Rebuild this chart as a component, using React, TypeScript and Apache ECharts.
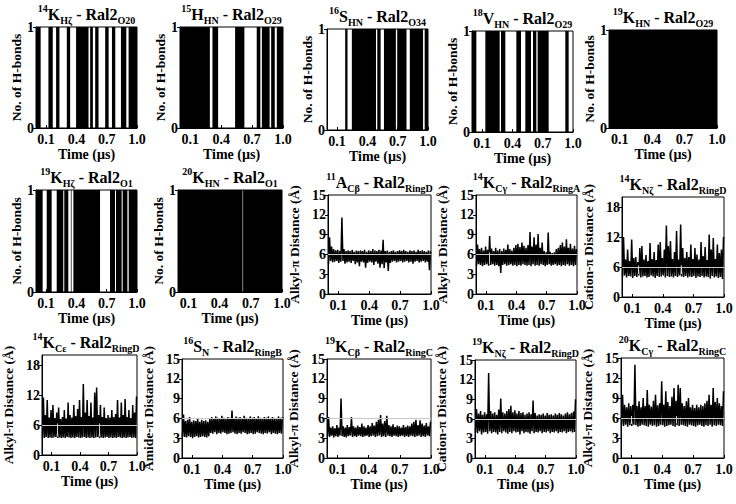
import React, { useEffect, useRef } from "react";
import * as echarts from "echarts";

const FONT = "'Liberation Serif','Times New Roman',Times,serif";

const TIME_TICKS = [0.1, 0.4, 0.7, 1.0];
const HB_TICKS = [0, 1];
const D15_TICKS = [0, 3, 6, 9, 12, 15];
const D20_TICKS = [0, 6, 12, 18];
const CUTOFF = 6;

// H-bond present intervals (µs)
const hb14K_Hz = [[0, 0.046], [0.123, 0.166], [0.199, 0.232], [0.305, 0.338], [0.397, 0.52], [0.536, 0.563], [0.586, 0.619], [0.685, 0.719], [0.752, 0.785], [0.841, 0.894], [0.917, 1.0]];
const hb15H_HN = [[0, 0.29], [0.315, 0.37], [0.535, 0.625], [0.745, 0.78], [0.795, 0.87], [0.885, 0.92], [0.94, 1.0]];
const hb16S_HN = [[0.18, 0.203], [0.246, 0.485], [0.498, 0.531], [0.564, 0.682], [0.695, 0.787], [0.82, 0.951], [0.967, 1.0]];
const hb18V_HN = [[0, 0.043], [0.132, 0.274], [0.287, 0.33], [0.439, 0.485], [0.528, 0.584], [0.604, 0.637], [0.65, 0.759], [0.924, 0.957]];
const hb19K_HN = [[0, 1.0]];
const hb19K_Hz = [[0, 0.066], [0.106, 0.155], [0.205, 0.27], [0.28, 0.32], [0.345, 0.352], [0.37, 0.634], [0.733, 0.782], [0.792, 0.848], [0.858, 0.905], [0.918, 1.0]];
const hb20K_HN = [[0, 0.621], [0.626, 1.0]];

// Distance traces: per time bin (50 bins over 1 µs) lower / upper envelope (Å)
const d11A_lo = [4.5, 5.0, 4.8, 4.9, 5.0, 4.7, 4.9, 5.0, 4.6, 4.8, 4.9, 4.7, 5.0, 4.5, 4.8, 4.2, 4.9, 4.8, 4.0, 4.7, 4.9, 4.8, 4.4, 4.9, 4.6, 4.0, 4.5, 3.9, 4.8, 3.5, 4.7, 4.9, 5.0, 4.8, 4.9, 5.0, 4.8, 4.9, 5.0, 4.8, 4.9, 4.6, 4.9, 5.0, 4.8, 4.9, 5.0, 4.8, 4.9, 3.6];
const d11A_hi = [8.6, 7.2, 6.8, 6.6, 6.7, 6.5, 11.6, 6.8, 6.5, 6.6, 6.5, 6.7, 6.4, 6.6, 6.5, 6.6, 6.5, 6.7, 6.4, 6.6, 6.5, 6.8, 6.6, 6.5, 6.7, 6.6, 8.2, 6.5, 6.6, 6.4, 6.5, 6.6, 6.4, 6.5, 6.6, 6.5, 6.7, 6.5, 6.4, 6.6, 6.5, 6.6, 6.4, 6.7, 6.5, 6.6, 6.5, 6.4, 6.6, 6.5];

const d14Kg_lo = [4.3, 4.5, 4.4, 4.2, 4.4, 4.5, 4.3, 4.4, 4.5, 4.3, 4.4, 4.2, 3.2, 4.4, 4.5, 4.3, 4.4, 4.5, 4.3, 4.4, 4.2, 4.4, 4.3, 4.5, 4.4, 4.3, 4.4, 4.2, 4.5, 4.3, 4.4, 4.3, 4.5, 4.4, 4.2, 4.4, 4.5, 4.3, 4.4, 4.5, 4.3, 4.4, 4.2, 4.4, 4.3, 4.5, 4.3, 4.4, 4.2, 4.4];
const d14Kg_hi = [7.5, 6.8, 7.0, 6.6, 7.2, 6.7, 8.8, 6.9, 6.5, 7.0, 6.6, 6.8, 6.5, 6.9, 6.7, 7.5, 6.8, 6.6, 7.0, 7.4, 7.6, 7.1, 7.8, 7.3, 7.0, 7.4, 9.4, 7.2, 8.6, 7.5, 9.1, 7.0, 7.8, 6.5, 6.3, 9.3, 6.4, 6.2, 6.3, 6.8, 7.0, 7.4, 7.8, 7.2, 8.3, 7.0, 7.6, 6.9, 7.3, 6.8];

const d14Kn_lo = [4.0, 4.3, 3.9, 4.2, 4.1, 3.8, 4.2, 4.0, 4.3, 3.9, 4.1, 4.2, 3.9, 4.0, 4.3, 4.1, 3.8, 4.2, 4.0, 4.1, 4.3, 3.9, 4.2, 4.0, 4.1, 3.9, 4.2, 4.0, 4.3, 4.1, 4.0, 4.2, 3.9, 4.1, 4.0, 4.2, 3.8, 4.1, 4.0, 4.2, 3.9, 4.1, 4.0, 3.7, 4.2, 3.9, 4.1, 3.8, 4.0, 3.6];
const d14Kn_hi = [12.0, 7.5, 9.5, 7.2, 11.5, 7.8, 8.0, 7.0, 9.8, 10.2, 7.5, 8.4, 7.2, 10.8, 7.6, 9.0, 7.4, 10.5, 11.0, 7.8, 9.5, 14.3, 10.2, 11.2, 7.6, 9.0, 13.2, 7.5, 14.5, 9.8, 7.8, 9.0, 8.0, 10.5, 7.6, 9.8, 8.5, 7.5, 11.0, 8.2, 10.0, 7.4, 12.5, 9.5, 11.8, 7.6, 10.5, 8.8, 9.5, 12.0];

const d14Ke_lo = [3.5, 3.4, 3.6, 3.4, 3.5, 3.4, 3.5, 3.6, 3.4, 3.5, 3.4, 3.5, 3.4, 3.6, 3.5, 3.4, 3.5, 3.4, 3.6, 3.5, 3.4, 3.5, 3.6, 3.4, 3.5, 3.4, 3.5, 3.4, 3.5, 3.6, 3.4, 3.5, 3.4, 3.5, 3.6, 3.4, 3.5, 3.4, 3.5, 3.4, 3.6, 3.5, 3.4, 3.5, 3.4, 3.5, 3.6, 3.4, 3.5, 3.4];
const d14Ke_hi = [11.5, 8.0, 11.0, 7.5, 9.0, 10.0, 7.4, 8.5, 9.5, 7.2, 7.6, 9.0, 7.3, 10.5, 8.0, 7.5, 10.0, 7.8, 9.2, 11.0, 7.6, 14.2, 8.5, 11.0, 7.8, 10.5, 7.5, 12.5, 13.5, 8.0, 10.0, 7.6, 9.5, 7.4, 8.0, 7.5, 9.0, 7.6, 8.2, 11.0, 7.5, 10.5, 8.0, 11.2, 7.6, 9.0, 7.4, 10.0, 8.5, 11.7];

const d16S_lo = [3.3, 3.2, 3.1, 3.3, 3.2, 3.0, 3.2, 3.3, 3.1, 3.2, 3.3, 3.2, 3.1, 3.3, 3.8, 3.7, 3.9, 3.6, 3.8, 3.7, 3.9, 3.8, 3.6, 3.7, 3.8, 3.9, 3.7, 3.6, 3.8, 3.7, 3.9, 3.8, 3.6, 3.7, 3.8, 3.6, 3.7, 3.9, 3.8, 3.7, 3.6, 3.8, 3.7, 3.9, 3.6, 3.8, 3.7, 3.6, 3.8, 3.7];
const d16S_hi = [6.6, 5.6, 5.8, 6.2, 5.5, 5.7, 5.6, 6.0, 5.5, 5.8, 5.6, 5.7, 5.5, 5.9, 6.2, 6.0, 6.3, 6.1, 6.0, 6.4, 6.1, 6.0, 6.2, 6.1, 7.2, 6.0, 6.3, 6.1, 6.2, 6.0, 6.4, 6.1, 6.0, 6.3, 6.1, 6.2, 6.0, 6.3, 6.1, 6.0, 6.2, 6.1, 6.3, 6.0, 6.2, 6.1, 6.0, 6.3, 6.1, 6.2];

const d19Kb_lo = [3.3, 3.2, 3.4, 3.1, 3.3, 3.2, 3.4, 3.3, 3.2, 3.1, 3.3, 3.4, 3.2, 3.3, 3.2, 3.4, 3.3, 3.2, 3.3, 3.4, 3.2, 3.3, 3.4, 3.2, 3.3, 3.4, 3.2, 3.3, 3.2, 3.4, 3.3, 3.2, 3.4, 3.3, 3.2, 3.3, 3.4, 3.2, 3.3, 3.2, 3.4, 3.3, 3.2, 3.3, 3.4, 3.2, 3.3, 3.2, 3.4, 3.3];
const d19Kb_hi = [6.2, 4.6, 4.8, 4.5, 5.0, 4.6, 9.0, 4.8, 4.6, 5.0, 4.7, 6.2, 4.8, 4.6, 4.9, 4.7, 5.2, 4.8, 4.6, 5.0, 4.8, 5.3, 4.9, 5.5, 5.8, 6.5, 5.2, 5.6, 6.4, 5.0, 4.8, 5.1, 4.7, 4.9, 4.8, 4.6, 5.0, 4.7, 4.9, 4.8, 5.2, 5.5, 5.8, 5.0, 5.7, 5.2, 4.9, 5.3, 4.8, 5.5];

const d19Kn_lo = [4.0, 3.8, 4.1, 3.6, 3.9, 4.0, 3.7, 4.1, 3.8, 4.0, 3.9, 3.6, 4.0, 3.8, 4.1, 3.9, 3.7, 4.0, 3.8, 4.1, 3.9, 4.0, 3.6, 4.1, 3.8, 4.0, 3.9, 3.7, 4.1, 3.8, 4.0, 3.9, 4.1, 3.8, 4.0, 3.9, 4.1, 3.8, 4.0, 3.9, 4.1, 3.8, 4.0, 3.9, 4.1, 3.8, 4.0, 4.1, 3.9, 4.0];
const d19Kn_hi = [7.5, 6.8, 7.2, 6.6, 7.0, 6.7, 13.0, 7.2, 6.8, 7.0, 6.6, 7.4, 9.1, 7.0, 6.8, 7.2, 7.5, 8.0, 7.0, 7.3, 6.8, 7.2, 6.9, 7.0, 6.6, 6.8, 7.0, 6.7, 8.8, 6.9, 6.5, 6.7, 6.6, 6.8, 6.5, 6.9, 6.6, 6.7, 6.5, 6.8, 6.6, 6.9, 6.7, 6.5, 6.8, 7.0, 6.7, 6.9, 7.1, 9.0];

const d20K_lo = [4.9, 4.8, 5.0, 4.7, 4.9, 4.8, 5.0, 4.9, 4.7, 4.8, 5.0, 4.9, 4.8, 4.7, 5.0, 4.8, 4.9, 4.7, 4.8, 5.0, 4.9, 4.7, 4.8, 4.9, 5.0, 4.8, 4.7, 4.9, 4.8, 5.0, 4.9, 4.8, 4.7, 5.0, 4.9, 4.8, 4.7, 4.9, 5.0, 4.8, 4.7, 4.9, 4.8, 5.0, 4.7, 4.9, 4.8, 5.0, 4.9, 4.8];
const d20K_hi = [9.5, 8.0, 7.6, 8.2, 7.8, 8.0, 14.0, 7.8, 8.5, 7.6, 9.0, 7.8, 10.2, 8.0, 7.7, 8.6, 9.5, 7.9, 8.2, 11.5, 8.0, 10.0, 8.4, 7.8, 9.2, 10.5, 8.6, 11.0, 10.5, 8.2, 7.8, 8.5, 9.0, 7.6, 8.0, 7.5, 8.0, 7.6, 8.0, 7.8, 8.2, 8.6, 9.5, 8.0, 10.5, 8.4, 9.0, 8.2, 7.8, 10.0];

// missing-frame gaps (µs)
const gaps14Kg = [0.13];
const gaps14Kn = [0.16, 0.58];
const gaps14Ke = [0.16, 0.6];
const gaps20K = [0.1, 0.54];

const ALKYL = "Alkyl-π Distance (Å)";
const CATION = "Cation-π Distance (Å)";
const AMIDE = "Amide-π Distance (Å)";
const HBN = "No. of H-bonds";

const ttl = (num: string, res: string, atom: string, grp: string) =>
  `{sup|${num}}{main|${res}}{sub|${atom}}{main| - Ral2}{sub|${grp}}`;

type Panel = {
  box: number[];
  title: string;
  kind: "hb" | "d";
  seg?: number[][];
  lo?: number[];
  hi?: number[];
  gaps?: number[];
  ymax?: number;
  ticks?: number[];
  yname: string;
};

const PANELS: Panel[] = [
  { box: [36, 27, 101, 101], title: ttl("14", "K", "Hζ", "O20"), kind: "hb", seg: hb14K_Hz, yname: HBN },
  { box: [180, 27, 103, 101], title: ttl("15", "H", "HN", "O29"), kind: "hb", seg: hb15H_HN, yname: HBN },
  { box: [327, 29, 101, 101], title: ttl("16", "S", "HN", "O34"), kind: "hb", seg: hb16S_HN, yname: HBN },
  { box: [472, 31, 101, 101], title: ttl("18", "V", "HN", "O29"), kind: "hb", seg: hb18V_HN, yname: HBN },
  { box: [609, 30, 108, 98], title: ttl("19", "K", "HN", "O29"), kind: "hb", seg: hb19K_HN, yname: HBN },
  { box: [36, 190, 101, 102], title: ttl("19", "K", "Hζ", "O1"), kind: "hb", seg: hb19K_Hz, yname: HBN },
  { box: [178, 190, 104, 102], title: ttl("20", "K", "HN", "O1"), kind: "hb", seg: hb20K_HN, yname: HBN },
  { box: [328, 195, 103, 99], title: ttl("11", "A", "Cβ", "RingD"), kind: "d", lo: d11A_lo, hi: d11A_hi, ymax: 15, ticks: D15_TICKS, yname: ALKYL },
  { box: [476, 195, 101, 99], title: ttl("14", "K", "Cγ", "RingA"), kind: "d", lo: d14Kg_lo, hi: d14Kg_hi, gaps: gaps14Kg, ymax: 15, ticks: D15_TICKS, yname: ALKYL },
  { box: [622, 197, 102, 100], title: ttl("14", "K", "Nζ", "RingD"), kind: "d", lo: d14Kn_lo, hi: d14Kn_hi, gaps: gaps14Kn, ymax: 20, ticks: D20_TICKS, yname: CATION },
  { box: [35, 355, 102, 100], title: ttl("14", "K", "Cε", "RingD"), kind: "d", lo: d14Ke_lo, hi: d14Ke_hi, gaps: gaps14Ke, ymax: 20, ticks: D20_TICKS, yname: ALKYL },
  { box: [182, 359, 101, 99], title: ttl("16", "S", "N", "RingB"), kind: "d", lo: d16S_lo, hi: d16S_hi, ymax: 15, ticks: D15_TICKS, yname: AMIDE },
  { box: [327, 359, 104, 99], title: ttl("19", "K", "Cβ", "RingC"), kind: "d", lo: d19Kb_lo, hi: d19Kb_hi, ymax: 15, ticks: D15_TICKS, yname: ALKYL },
  { box: [475, 360, 101, 98], title: ttl("19", "K", "Nζ", "RingD"), kind: "d", lo: d19Kn_lo, hi: d19Kn_hi, ymax: 15, ticks: D15_TICKS, yname: CATION },
  { box: [621, 358, 103, 100], title: ttl("20", "K", "Cγ", "RingC"), kind: "d", lo: d20K_lo, hi: d20K_hi, gaps: gaps20K, ymax: 15, ticks: D15_TICKS, yname: ALKYL },
];

function zigzag(lo: number[], hi: number[]) {
  const n = lo.length;
  const out: number[][] = [];
  for (let i = 0; i < n; i++) {
    out.push([(i + 0.25) / n, lo[i]]);
    out.push([(i + 0.75) / n, hi[i]]);
  }
  return out;
}

const txt = { fontFamily: FONT, fontWeight: "bold" as const, color: "#000" };

function buildOption() {
  const grid: any[] = [];
  const xAxis: any[] = [];
  const yAxis: any[] = [];
  const series: any[] = [];
  const graphic: any[] = [];

  PANELS.forEach((p, i) => {
    const [left, top, width, height] = p.box;
    grid.push({ left, top, width, height, show: true, borderColor: "#000", borderWidth: 1, backgroundColor: "transparent" });
    xAxis.push({
      gridIndex: i, type: "value", min: 0, max: 1,
      axisLine: { show: true, onZero: false, lineStyle: { color: "#000", width: 1 } },
      axisTick: { show: true, inside: true, length: 3, customValues: TIME_TICKS, lineStyle: { color: "#000" } },
      axisLabel: { customValues: TIME_TICKS, formatter: (v: number) => v.toFixed(1), margin: 4, fontSize: 14, ...txt },
      splitLine: { show: false },
      name: "Time (µs)", nameLocation: "middle", nameGap: 19,
      nameTextStyle: { fontSize: 14, ...txt },
    });
    const isHb = p.kind === "hb";
    const ticks = isHb ? HB_TICKS : p.ticks!;
    yAxis.push({
      gridIndex: i, type: "value", min: 0, max: isHb ? 1 : p.ymax,
      axisLine: { show: true, lineStyle: { color: "#000", width: 1 } },
      axisTick: { show: true, inside: false, length: 3, customValues: ticks, lineStyle: { color: "#000" } },
      axisLabel: { customValues: ticks, margin: 2, fontSize: 14, ...txt },
      splitLine: { show: false },
      name: p.yname, nameLocation: "middle", nameGap: isHb ? 13 : 27,
      nameTextStyle: { fontSize: 13.5, ...txt },
    });
    if (isHb) {
      series.push({
        type: "custom", xAxisIndex: i, yAxisIndex: i, data: p.seg, clip: true,
        encode: { x: [0, 1] },
        renderItem: (_params: any, api: any) => {
          const a = api.coord([api.value(0), 1]);
          const b = api.coord([api.value(1), 0]);
          return { type: "rect", shape: { x: a[0], y: a[1], width: b[0] - a[0], height: b[1] - a[1] }, style: { fill: "#000" } };
        },
      });
    } else {
      const ml: any[] = [{ yAxis: CUTOFF, lineStyle: { color: "#c8c8c8", width: 1, type: "solid" } }];
      (p.gaps || []).forEach((g) => {
        const idx = Math.min(p.lo!.length - 1, Math.floor(g * p.lo!.length));
        ml.push([
          { coord: [g, p.lo![idx] + 0.3], lineStyle: { color: "#d0d0d0", width: 1, type: "solid" } },
          { coord: [g, CUTOFF + 0.3] },
        ]);
      });
      series.push({
        type: "line", xAxisIndex: i, yAxisIndex: i, data: zigzag(p.lo!, p.hi!),
        symbol: "none", lineStyle: { color: "#000", width: 1.5 }, clip: true,
        markLine: { silent: true, symbol: "none", label: { show: false }, data: ml, z: 10 },
      });
    }
    graphic.push({
      type: "text", x: left + width / 2, y: top - 13,
      style: {
        text: p.title, align: "center", verticalAlign: "middle", fill: "#000",
        fontFamily: FONT, fontWeight: "bold", fontSize: 16,
        rich: {
          main: { fontFamily: FONT, fontWeight: "bold", fontSize: 16, lineHeight: 22, fill: "#000", verticalAlign: "middle" },
          sup: { fontFamily: FONT, fontWeight: "bold", fontSize: 10, lineHeight: 11, fill: "#000", verticalAlign: "top" },
          sub: { fontFamily: FONT, fontWeight: "bold", fontSize: 10, lineHeight: 11, fill: "#000", verticalAlign: "bottom" },
        },
      },
    });
  });

  return { animation: false, backgroundColor: "#fff", grid, xAxis, yAxis, series, graphic };
}

export default function App() {
  const ref = useRef<HTMLDivElement>(null);
  useEffect(() => {
    if (!ref.current) return;
    const chart = echarts.init(ref.current, undefined, { renderer: "svg" });
    chart.setOption(buildOption() as any);
    return () => chart.dispose();
  }, []);
  return <div ref={ref} style={{ position: "fixed", left: 0, top: 0, width: 736, height: 504, background: "#fff" }} />;
}
